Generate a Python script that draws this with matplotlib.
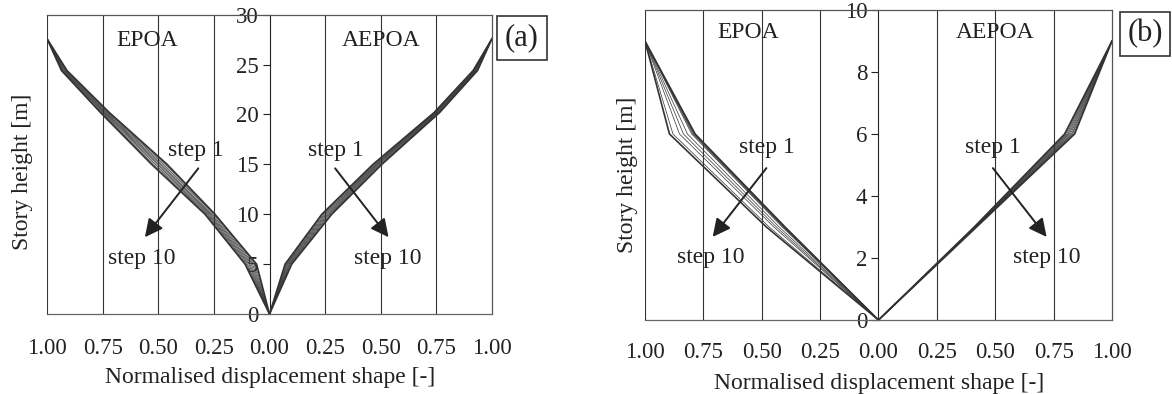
import matplotlib
matplotlib.use("Agg")
import matplotlib.pyplot as plt

plt.rcParams.update({
    "font.family": "Liberation Serif",
    "font.size": 17,
    "text.color": "#222222",
    "xtick.color": "#222222",
    "ytick.color": "#222222",
    "xtick.labelsize": 16.5,
    "ytick.labelsize": 16.5,
})

# ---- data ----
# panel (a): 6 nodes above ground
heights_a = [0, 5, 10, 15, 20.2, 24.4, 27.6]
epoa_a = [  # step 1 ... step 10 (plotted to the left)
    [0, 0.058, 0.245, 0.460, 0.720, 0.910, 1.0],
    [0, 0.064, 0.250, 0.468, 0.725, 0.913, 1.0],
    [0, 0.070, 0.256, 0.476, 0.729, 0.916, 1.0],
    [0, 0.076, 0.262, 0.484, 0.734, 0.919, 1.0],
    [0, 0.082, 0.267, 0.491, 0.738, 0.922, 1.0],
    [0, 0.088, 0.272, 0.498, 0.742, 0.925, 1.0],
    [0, 0.093, 0.277, 0.505, 0.746, 0.928, 1.0],
    [0, 0.099, 0.281, 0.513, 0.750, 0.930, 1.0],
    [0, 0.104, 0.286, 0.521, 0.755, 0.933, 1.0],
    [0, 0.110, 0.290, 0.530, 0.760, 0.935, 1.0],
]
aepoa_a = [
    [0, 0.070, 0.235, 0.465, 0.740, 0.915, 1.0],
    [0, 0.073, 0.240, 0.469, 0.743, 0.917, 1.0],
    [0, 0.077, 0.245, 0.474, 0.746, 0.919, 1.0],
    [0, 0.080, 0.250, 0.478, 0.748, 0.921, 1.0],
    [0, 0.083, 0.255, 0.482, 0.751, 0.924, 1.0],
    [0, 0.087, 0.260, 0.486, 0.754, 0.926, 1.0],
    [0, 0.090, 0.265, 0.490, 0.757, 0.928, 1.0],
    [0, 0.093, 0.270, 0.495, 0.760, 0.930, 1.0],
    [0, 0.097, 0.275, 0.500, 0.762, 0.933, 1.0],
    [0, 0.100, 0.280, 0.505, 0.765, 0.935, 1.0],
]

# panel (b): 3 storeys
heights_b = [0, 3, 6, 9]
epoa_b = [
    [0, 0.400, 0.785, 1.0],
    [0, 0.402, 0.788, 1.0],
    [0, 0.405, 0.791, 1.0],
    [0, 0.408, 0.795, 1.0],
    [0, 0.412, 0.800, 1.0],
    [0, 0.425, 0.818, 1.0],
    [0, 0.437, 0.835, 1.0],
    [0, 0.448, 0.852, 1.0],
    [0, 0.468, 0.880, 1.0],
    [0, 0.480, 0.895, 1.0],
]
aepoa_b = [
    [0, 0.410, 0.797, 1.0],
    [0, 0.411, 0.802, 1.0],
    [0, 0.412, 0.807, 1.0],
    [0, 0.413, 0.812, 1.0],
    [0, 0.414, 0.817, 1.0],
    [0, 0.415, 0.822, 1.0],
    [0, 0.416, 0.827, 1.0],
    [0, 0.417, 0.831, 1.0],
    [0, 0.418, 0.836, 1.0],
    [0, 0.420, 0.840, 1.0],
]

x_ticks = [-1, -0.75, -0.5, -0.25, 0, 0.25, 0.5, 0.75, 1]
x_tick_labels = ["1.00", "0.75", "0.50", "0.25", "0.00", "0.25", "0.50", "0.75", "1.00"]
y_ticks_a = [0, 5, 10, 15, 20, 25, 30]
y_ticks_b = [0, 2, 4, 6, 8, 10]


def draw_panel(ax, heights, epoa, aepoa, ymax, yticks, txt, xpad):
    for gx in [-1, -0.75, -0.5, -0.25, 0.25, 0.5, 0.75]:
        ax.axvline(gx, color="#333333", lw=0.8, zorder=1)

    n = len(epoa)
    for i in range(n):
        lw = 1.2 if i in (0, n - 1) else 0.5
        ax.plot([-v for v in epoa[i]], heights, color="#333333", lw=lw, zorder=3)
        ax.plot(aepoa[i], heights, color="#333333", lw=lw, zorder=3)

    ax.set_xlim(-1, 1)
    ax.set_ylim(0, ymax)

    ax.spines["left"].set_position(("data", 0))
    ax.spines["left"].set_color("#222222")
    for s in ["top", "right"]:
        ax.spines[s].set_color("#555555")
        ax.spines[s].set_linewidth(0.9)
    ax.spines["bottom"].set_color("#666666")
    ax.spines["bottom"].set_linewidth(0.9)

    ax.set_yticks(yticks)
    ax.tick_params(axis="y", direction="out", length=5, width=0.8, pad=3)
    ax.set_xticks(x_ticks)
    ax.set_xticklabels(x_tick_labels)
    ax.set_xticks([-1, 0, 1], minor=True)
    ax.tick_params(axis="x", which="major", length=0, pad=xpad)
    ax.tick_params(axis="x", which="minor", direction="out", length=5, width=0.8)

    for x, y, s in txt["labels"]:
        ax.text(x, y, s, ha="center", va="center", zorder=5)
    for (x0, y0), (x1, y1) in txt["arrows"]:
        ax.annotate("", xy=(x1, y1), xytext=(x0, y0),
                    arrowprops=dict(arrowstyle="-|>,head_length=0.6,head_width=0.3",
                                    color="#222222", lw=1.4, mutation_scale=18,
                                    shrinkA=0, shrinkB=0), zorder=6)


fig = plt.figure(figsize=(11.72, 3.94), dpi=100)
ax_a = fig.add_axes([0.0401, 0.203, 0.3797, 0.7597])
ax_b = fig.add_axes([0.5503, 0.1878, 0.3985, 0.7868])

draw_panel(ax_a, heights_a, epoa_a, aepoa_a, 30, y_ticks_a, {
    "labels": [(-0.55, 27.4, "EPOA"), (0.50, 27.4, "AEPOA"),
               (-0.33, 16.4, "step 1"), (-0.575, 5.6, "step 10"),
               (0.30, 16.4, "step 1"), (0.53, 5.6, "step 10")],
    "arrows": [((-0.32, 14.6), (-0.56, 7.7)), ((0.295, 14.6), (0.535, 7.7))],
}, 17)
draw_panel(ax_b, heights_b, epoa_b, aepoa_b, 10, y_ticks_b, {
    "labels": [(-0.56, 9.26, "EPOA"), (0.50, 9.26, "AEPOA"),
               (-0.48, 5.55, "step 1"), (-0.72, 2.03, "step 10"),
               (0.49, 5.55, "step 1"), (0.72, 2.03, "step 10")],
    "arrows": [((-0.48, 4.9), (-0.71, 2.68)), ((0.49, 4.9), (0.72, 2.68))],
}, 16)

box = dict(boxstyle="square,pad=0.25", fc="white", ec="#333333", lw=1.2)
fig.text(522 / 1172, 1 - 38 / 394, "(a)", fontsize=22, ha="center", va="center", bbox=box)
fig.text(1145 / 1172, 1 - 34 / 394, "(b)", fontsize=22, ha="center", va="center", bbox=box)

fig.text(23 / 1172, 1 - 172 / 394, "Story height [m]", rotation=90, ha="center", va="center")
fig.text(627 / 1172, 1 - 175 / 394, "Story height [m]", rotation=90, ha="center", va="center")
fig.text(270 / 1172, 1 - 377 / 394, "Normalised displacement shape [-]", ha="center", va="center")
fig.text(879 / 1172, 1 - 383 / 394, "Normalised displacement shape [-]", ha="center", va="center")

fig.savefig("out.png", dpi=100)
